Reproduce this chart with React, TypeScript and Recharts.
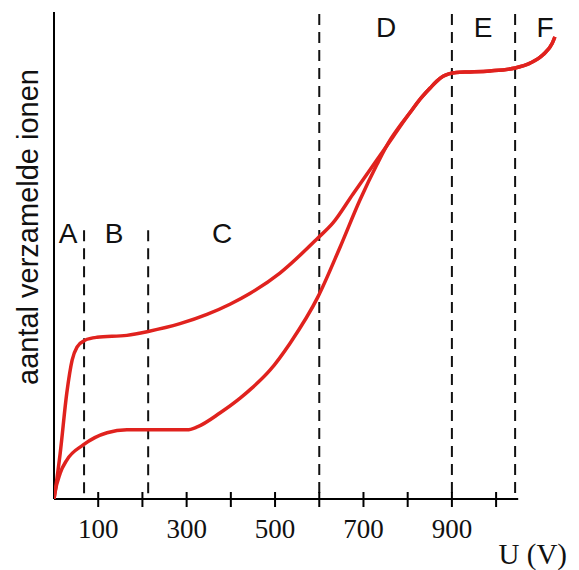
import React from "react";
import { LineChart, Line, XAxis, YAxis, ReferenceLine } from "recharts";

// Upper curve (x in V, y = relative number of collected ions, 0..100)
const upperX = [0, 2, 14, 29, 41, 52, 70, 97, 165, 213, 285, 346, 398, 443, 511, 597, 631, 676, 731, 767, 805, 830, 851, 866, 880, 893, 910, 941, 986, 1043, 1077, 1106, 1127, 1133];
const upperY = [0, 1.2, 9.4, 21.8, 28.5, 31.2, 32.6, 33.2, 33.6, 34.4, 36.0, 37.9, 40.0, 42.2, 46.4, 53.6, 56.7, 62.6, 69.7, 74.4, 79.3, 82.3, 84.4, 85.8, 86.8, 87.3, 87.6, 87.7, 87.9, 88.5, 89.5, 91.2, 93.6, 94.9];

// Lower curve
const lowerX = [0, 2, 14, 29, 66, 120, 165, 213, 301, 324, 376, 421, 443, 489, 534, 597, 647, 692, 731, 760, 782, 805, 830, 851, 866, 880, 893, 910, 941, 986, 1043, 1077, 1106, 1127, 1133];
const lowerY = [0, 1.2, 5.3, 8.0, 11.1, 13.6, 14.2, 14.2, 14.2, 14.8, 17.7, 20.7, 22.4, 26.5, 32.0, 41.5, 51.7, 61.4, 68.8, 73.7, 76.6, 79.3, 82.3, 84.4, 85.8, 86.8, 87.3, 87.6, 87.7, 87.9, 88.5, 89.5, 91.2, 93.6, 94.9];

// Axis ticks
const xTicks = [100, 200, 300, 400, 500, 600, 700, 800, 900, 1000];
const xLabelTicks = [100, 300, 500, 700, 900];

// Region boundaries
const shortBoundaries = [68, 213];
const tallBoundaries = [600, 900, 1043];
const shortTop = 55.2;
const tallTop = 99.6;

const upperData = upperX.map((x, i) => ({ x, y: upperY[i] }));
const lowerData = lowerX.map((x, i) => ({ x, y: lowerY[i] }));

const RED = "#e0221e";

const Tick = (props: any) => {
  const { x, y, payload } = props;
  const v = payload.value;
  return (
    <g>
      <line x1={x} x2={x} y1={y - 7} y2={y + 8} stroke="#000" strokeWidth={2} />
      {xLabelTicks.includes(v) && (
        <text x={x} y={y + 39} textAnchor="middle" fontFamily="'Liberation Serif', serif" fontSize={27} fill="#111">
          {v}
        </text>
      )}
    </g>
  );
};

export default function App() {
  const W = 571;
  const H = 562;
  return (
    <div style={{ position: "relative", width: W, height: H }}>
      <LineChart width={W} height={H} margin={{ top: 4, right: 21, left: 46, bottom: 0 }}>
        <XAxis
          type="number"
          dataKey="x"
          domain={[0, 1140]}
          ticks={xTicks}
          axisLine={false}
          tickLine={false}
          tickSize={0}
          tickMargin={0}
          height={71}
          tick={<Tick />}
          allowDataOverflow
          interval={0}
        />
        <YAxis type="number" dataKey="y" domain={[0, 100]} hide allowDataOverflow />
        {shortBoundaries.map((b) => (
          <ReferenceLine
            key={"s" + b}
            segment={[{ x: b, y: shortTop }, { x: b, y: 0 }]}
            stroke="#111"
            strokeWidth={2}
            strokeDasharray="11 7"
          />
        ))}
        {tallBoundaries.map((b) => (
          <ReferenceLine
            key={"t" + b}
            segment={[{ x: b, y: tallTop }, { x: b, y: 0 }]}
            stroke="#111"
            strokeWidth={2}
            strokeDasharray="11 7"
          />
        ))}
        <ReferenceLine segment={[{ x: 0, y: 0 }, { x: 1050, y: 0 }]} stroke="#000" strokeWidth={2} />
        <ReferenceLine segment={[{ x: 0, y: 0 }, { x: 0, y: 100 }]} stroke="#000" strokeWidth={2} />
        <Line data={upperData} dataKey="y" type="monotone" stroke={RED} strokeWidth={3.5} dot={false} isAnimationActive={false} />
        <Line data={lowerData} dataKey="y" type="monotone" stroke={RED} strokeWidth={3.5} dot={false} isAnimationActive={false} />
      </LineChart>
      <svg width={W} height={H} style={{ position: "absolute", left: 0, top: 0, pointerEvents: "none" }}>
        <text x={30} y={219} transform="rotate(-90 30 219)" textAnchor="middle" fontFamily="'Liberation Sans', Arial, sans-serif" fontSize={29} fill="#111">
          aantal verzamelde ionen
        </text>
        <g fontFamily="'Liberation Sans', Arial, sans-serif" fontSize={28} fill="#111" textAnchor="middle">
          <text x={60} y={235}>A</text>
          <text x={106} y={235}>B</text>
          <text x={214} y={235}>C</text>
          <text x={378} y={29}>D</text>
          <text x={475} y={29}>E</text>
          <text x={537} y={29}>F</text>
        </g>
        <text x={559} y={556} textAnchor="end" fontFamily="'Liberation Serif', serif" fontSize={29} fill="#111">
          U (V)
        </text>
      </svg>
    </div>
  );
}
